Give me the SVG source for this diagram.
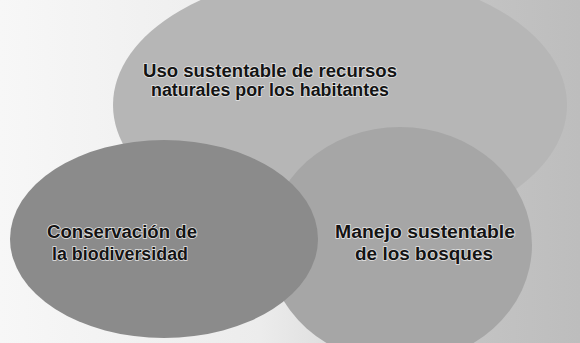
<svg xmlns="http://www.w3.org/2000/svg" width="580" height="343" viewBox="0 0 580 343">
<defs>
<linearGradient id="bg" x1="0" y1="0" x2="1" y2="0">
<stop offset="0" stop-color="#f7f7f7"/>
<stop offset="0.45" stop-color="#ececec"/>
<stop offset="0.8" stop-color="#c4c4c4"/>
<stop offset="1" stop-color="#bdbdbd"/>
</linearGradient>
</defs>
<style>
.lbl{font-family:"Liberation Sans",Arial,sans-serif;font-size:18px;font-weight:bold;fill:#141414;stroke:#e6e6e6;stroke-width:1.4px;paint-order:stroke;text-anchor:middle}
</style>
<rect width="580" height="343" fill="url(#bg)"/>
<g id="top">
<ellipse cx="340" cy="105" rx="227" ry="133" fill="#b6b6b6"/>
<text class="lbl" x="270" y="77" textLength="254" lengthAdjust="spacingAndGlyphs">Uso sustentable de recursos</text>
<text class="lbl" x="270" y="96" textLength="238" lengthAdjust="spacingAndGlyphs">naturales por los habitantes</text>
</g>
<g id="right">
<ellipse cx="400" cy="245" rx="132" ry="118" fill="#a6a6a6"/>
<text class="lbl" x="425" y="238" textLength="180" lengthAdjust="spacingAndGlyphs">Manejo sustentable</text>
<text class="lbl" x="424" y="260" textLength="138" lengthAdjust="spacingAndGlyphs">de los bosques</text>
</g>
<g id="left">
<ellipse cx="164" cy="239" rx="154" ry="99" fill="#8b8b8b"/>
<text class="lbl" x="122" y="238" textLength="150" lengthAdjust="spacingAndGlyphs">Conservación de</text>
<text class="lbl" x="120" y="260" textLength="136" lengthAdjust="spacingAndGlyphs">la biodiversidad</text>
</g>
<g id="connectors"/>
</svg>
